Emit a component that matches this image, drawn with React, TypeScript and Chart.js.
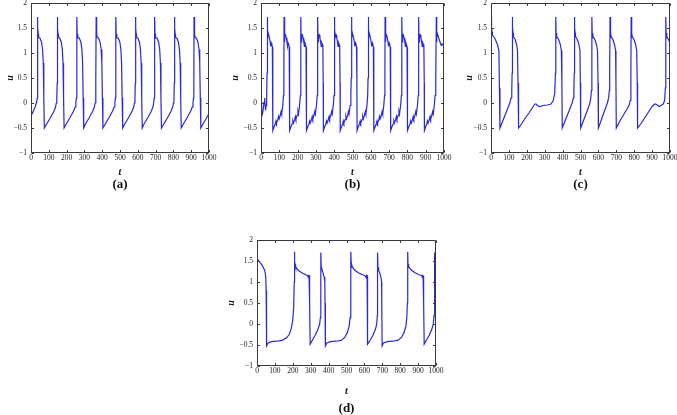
import React, { useEffect, useRef } from "react";
import { Chart, registerables } from "chart.js";
Chart.register(...registerables);

const X_TICKS = [0, 100, 200, 300, 400, 500, 600, 700, 800, 900, 1000];
const Y_TICKS = [-1, -0.5, 0, 0.5, 1, 1.5, 2];
const X_TITLE = "t";
const Y_TITLE = "u";
const PANEL_LABELS = ["(a)", "(b)", "(c)", "(d)"];

// Panel (a)
const aT = [
  0, 3, 6, 15, 25, 32, 35, 36,
  37, 39, 41, 43, 50, 59, 65, 69, 72, 75, 88, 108, 128, 138, 142, 145, 147,
  148, 150, 152, 154, 161, 170, 176, 180, 183, 186, 198, 218, 238, 248, 252, 255, 257,
  258, 260, 262, 264, 271, 280, 286, 290, 293, 296, 306, 326, 346, 356, 360, 363, 365,
  366, 368, 370, 372, 379, 388, 394, 398, 401, 404, 417, 437, 457, 467, 471, 474, 476,
  477, 479, 481, 483, 490, 499, 505, 509, 512, 515, 527, 547, 567, 577, 581, 584, 586,
  587, 589, 591, 593, 600, 609, 615, 619, 622, 625, 635, 655, 675, 685, 689, 692, 694,
  695, 697, 699, 701, 708, 717, 723, 727, 730, 733, 746, 766, 786, 796, 800, 803, 805,
  806, 808, 810, 812, 819, 828, 834, 838, 841, 844, 856, 876, 896, 906, 910, 913, 915,
  916, 918, 920, 922, 929, 938, 944, 948, 951, 954, 966, 986, 1000,
];
const aU = [
  -0.15, -0.22, -0.22, -0.15, -0.06, 0.02, 0.1, 0.5,
  1.72, 1.3, 1.38, 1.31, 1.3, 1.22, 1.07, 0.8, 0.1, -0.5, -0.42, -0.3, -0.17, -0.08, 0.0, 0.1, 0.4,
  1.72, 1.3, 1.38, 1.31, 1.3, 1.22, 1.07, 0.8, 0.1, -0.5, -0.42, -0.3, -0.17, -0.08, 0.0, 0.1, 0.4,
  1.72, 1.3, 1.38, 1.31, 1.3, 1.22, 1.07, 0.8, 0.1, -0.5, -0.42, -0.3, -0.17, -0.08, 0.0, 0.1, 0.4,
  1.72, 1.3, 1.38, 1.31, 1.3, 1.22, 1.07, 0.8, 0.1, -0.5, -0.42, -0.3, -0.17, -0.08, 0.0, 0.1, 0.4,
  1.72, 1.3, 1.38, 1.31, 1.3, 1.22, 1.07, 0.8, 0.1, -0.5, -0.42, -0.3, -0.17, -0.08, 0.0, 0.1, 0.4,
  1.72, 1.3, 1.38, 1.31, 1.3, 1.22, 1.07, 0.8, 0.1, -0.5, -0.42, -0.3, -0.17, -0.08, 0.0, 0.1, 0.4,
  1.72, 1.3, 1.38, 1.31, 1.3, 1.22, 1.07, 0.8, 0.1, -0.5, -0.42, -0.3, -0.17, -0.08, 0.0, 0.1, 0.4,
  1.72, 1.3, 1.38, 1.31, 1.3, 1.22, 1.07, 0.8, 0.1, -0.5, -0.42, -0.3, -0.17, -0.08, 0.0, 0.1, 0.4,
  1.72, 1.3, 1.38, 1.31, 1.3, 1.22, 1.07, 0.8, 0.1, -0.5, -0.42, -0.3, -0.21,
];

// Panel (b)
const bT = [
  0, 2, 5, 9, 13, 17, 20, 23, 25, 28, 31, 33,
  34, 35.5, 37, 39, 42, 46, 50, 53, 56, 59, 62, 64, 65, 72, 78, 82, 85, 92, 96, 99, 105, 110, 113, 119, 123, 125,
  126, 127.5, 129, 131, 134, 138, 142, 145, 148, 151, 154, 156, 157, 164, 170, 174, 177, 184, 188, 191, 197, 202, 205, 211, 215, 217,
  218, 219.5, 221, 223, 226, 230, 234, 237, 240, 243, 246, 248, 249, 256, 262, 266, 269, 276, 280, 283, 289, 294, 297, 303, 307, 309,
  310, 311.5, 313, 315, 318, 322, 326, 329, 332, 335, 338, 340, 341, 348, 354, 358, 361, 368, 372, 375, 381, 386, 389, 395, 399, 401,
  402, 403.5, 405, 407, 410, 414, 418, 421, 424, 427, 430, 432, 433, 440, 446, 450, 453, 460, 464, 467, 473, 478, 481, 487, 491, 493,
  494, 495.5, 497, 499, 502, 506, 510, 513, 516, 519, 522, 524, 525, 532, 538, 542, 545, 552, 556, 559, 565, 570, 573, 579, 583, 585,
  586, 587.5, 589, 591, 594, 598, 602, 605, 608, 611, 614, 616, 617, 624, 630, 634, 637, 644, 648, 651, 657, 662, 665, 671, 675, 677,
  678, 679.5, 681, 683, 686, 690, 694, 697, 700, 703, 706, 708, 709, 716, 722, 726, 729, 736, 740, 743, 749, 754, 757, 763, 767, 769,
  770, 771.5, 773, 775, 778, 782, 786, 789, 792, 795, 798, 800, 801, 808, 814, 818, 821, 828, 832, 835, 841, 846, 849, 855, 859, 861,
  862, 863.5, 865, 867, 870, 874, 878, 881, 884, 887, 890, 892, 893, 900, 906, 910, 913, 920, 924, 927, 933, 938, 941, 947, 951, 955,
  958, 959.5, 961, 963, 966, 970, 975, 980, 985, 990, 995, 1000,
];
const bU = [
  0.03, -0.12, -0.27, -0.2, -0.1, 0.02, 0.1, -0.05, -0.15, -0.05, 0.15, 0.6,
  1.72, 1.22, 1.38, 1.33, 1.36, 1.3, 1.22, 1.13, 1.2, 1.17, 1.12, 0.4, -0.55, -0.47, -0.42, -0.36, -0.4, -0.33, -0.27, -0.32, -0.25, -0.17, -0.22, -0.05, 0.15, 0.5,
  1.72, 1.22, 1.38, 1.33, 1.36, 1.3, 1.22, 1.13, 1.2, 1.17, 1.12, 0.4, -0.55, -0.47, -0.42, -0.36, -0.4, -0.33, -0.27, -0.32, -0.25, -0.17, -0.22, -0.05, 0.15, 0.5,
  1.72, 1.22, 1.38, 1.33, 1.36, 1.3, 1.22, 1.13, 1.2, 1.17, 1.12, 0.4, -0.55, -0.47, -0.42, -0.36, -0.4, -0.33, -0.27, -0.32, -0.25, -0.17, -0.22, -0.05, 0.15, 0.5,
  1.72, 1.22, 1.38, 1.33, 1.36, 1.3, 1.22, 1.13, 1.2, 1.17, 1.12, 0.4, -0.55, -0.47, -0.42, -0.36, -0.4, -0.33, -0.27, -0.32, -0.25, -0.17, -0.22, -0.05, 0.15, 0.5,
  1.72, 1.22, 1.38, 1.33, 1.36, 1.3, 1.22, 1.13, 1.2, 1.17, 1.12, 0.4, -0.55, -0.47, -0.42, -0.36, -0.4, -0.33, -0.27, -0.32, -0.25, -0.17, -0.22, -0.05, 0.15, 0.5,
  1.72, 1.22, 1.38, 1.33, 1.36, 1.3, 1.22, 1.13, 1.2, 1.17, 1.12, 0.4, -0.55, -0.47, -0.42, -0.36, -0.4, -0.33, -0.27, -0.32, -0.25, -0.17, -0.22, -0.05, 0.15, 0.5,
  1.72, 1.22, 1.38, 1.33, 1.36, 1.3, 1.22, 1.13, 1.2, 1.17, 1.12, 0.4, -0.55, -0.47, -0.42, -0.36, -0.4, -0.33, -0.27, -0.32, -0.25, -0.17, -0.22, -0.05, 0.15, 0.5,
  1.72, 1.22, 1.38, 1.33, 1.36, 1.3, 1.22, 1.13, 1.2, 1.17, 1.12, 0.4, -0.55, -0.47, -0.42, -0.36, -0.4, -0.33, -0.27, -0.32, -0.25, -0.17, -0.22, -0.05, 0.15, 0.5,
  1.72, 1.22, 1.38, 1.33, 1.36, 1.3, 1.22, 1.13, 1.2, 1.17, 1.12, 0.4, -0.55, -0.47, -0.42, -0.36, -0.4, -0.33, -0.27, -0.32, -0.25, -0.17, -0.22, -0.05, 0.15, 0.5,
  1.72, 1.22, 1.38, 1.33, 1.36, 1.3, 1.22, 1.13, 1.2, 1.17, 1.12, 0.4, -0.55, -0.47, -0.42, -0.36, -0.4, -0.33, -0.27, -0.32, -0.25, -0.17, -0.22, -0.05, 0.15, 0.5,
  1.72, 1.22, 1.38, 1.33, 1.36, 1.31, 1.26, 1.2, 1.15, 1.18, 1.16, 1.13,
];

// Panel (c)
const cT = [
  0, 2, 4, 6, 8, 22, 37, 44, 47, 50,
  70, 90, 105, 112, 116, 118,
  119, 121, 123, 125, 135, 143, 148, 151, 154,
  172, 192, 212, 232, 245, 252, 263, 273, 290, 315, 335, 348, 356, 360,
  362, 364, 366, 368, 378, 387, 393, 396, 398,
  418, 438, 453, 460, 463, 465,
  466, 468, 470, 472, 482, 491, 497, 499, 501,
  518, 535, 550, 557, 561, 563,
  564, 566, 568, 570, 580, 589, 595, 598, 600,
  618, 636, 650, 657, 661, 663,
  665, 667, 669, 671, 681, 690, 696, 698, 700,
  720, 740, 760, 772, 778, 781, 782,
  783, 785, 787, 789, 799, 808, 814, 817, 819,
  840, 860, 880, 900, 915, 925, 940, 950, 962, 970, 974, 976,
  977, 979, 981, 983, 993, 1000,
];
const cU = [
  1.45, 1.72, 1.35, 1.42, 1.36, 1.29, 1.16, 1.05, 0.3, -0.5,
  -0.32, -0.14, 0.0, 0.1, 0.25, 0.6,
  1.72, 1.3, 1.4, 1.33, 1.27, 1.17, 1.05, 0.4, -0.5,
  -0.41, -0.3, -0.2, -0.09, -0.02, -0.02, -0.06, -0.07, -0.05, -0.04, -0.02, 0.05, 0.2, 0.6,
  1.72, 1.3, 1.4, 1.33, 1.27, 1.17, 1.05, 0.4, -0.5,
  -0.32, -0.14, 0.0, 0.1, 0.25, 0.6,
  1.72, 1.3, 1.4, 1.33, 1.27, 1.17, 1.05, 0.4, -0.5,
  -0.34, -0.18, -0.03, 0.08, 0.25, 0.6,
  1.72, 1.3, 1.4, 1.33, 1.27, 1.17, 1.05, 0.4, -0.5,
  -0.32, -0.14, 0.0, 0.1, 0.25, 0.6,
  1.72, 1.3, 1.4, 1.33, 1.27, 1.17, 1.05, 0.4, -0.5,
  -0.36, -0.24, -0.12, -0.04, 0.05, 0.25, 0.6,
  1.72, 1.3, 1.4, 1.33, 1.27, 1.17, 1.05, 0.4, -0.5,
  -0.4, -0.29, -0.18, -0.07, -0.02, -0.03, -0.07, -0.05, -0.02, 0.05, 0.3, 0.7,
  1.72, 1.3, 1.4, 1.33, 1.26, 1.2,
];

// Panel (d)
const dT = [
  0, 1, 10, 28, 43, 49, 51, 53, 54,
  62, 80, 110, 140, 165, 180, 192, 200, 205, 208,
  209, 211, 213, 216, 230, 250, 270, 283, 287, 289, 291, 293, 294, 295, 297,
  310, 325, 340, 350, 354, 356,
  357, 359, 361, 364, 370, 375, 379, 380, 382,
  390, 410, 440, 470, 490, 505, 515, 520, 523,
  525, 527, 529, 532, 546, 566, 586, 604, 609, 611, 613, 615, 616, 617, 620,
  633, 648, 662, 669, 672, 673,
  674, 676, 678, 681, 687, 692, 696, 697, 699,
  707, 727, 757, 787, 807, 822, 832, 837, 840,
  842, 844, 846, 849, 863, 883, 903, 920, 924, 926, 928, 930, 931, 932, 934,
  947, 962, 977, 985, 989, 991,
  992, 994, 996, 998, 1000,
];
const dU = [
  1.9, 1.55, 1.5, 1.4, 1.28, 1.12, 0.8, -0.3, -0.52,
  -0.45, -0.42, -0.41, -0.39, -0.33, -0.25, -0.1, 0.1, 0.4, 1.0,
  1.72, 1.35, 1.42, 1.36, 1.28, 1.22, 1.18, 1.15, 1.11, 1.17, 1.09, 1.16, 1.05, 0.5, -0.48,
  -0.38, -0.27, -0.13, 0.0, 0.15, 0.5,
  1.7, 1.3, 1.35, 1.28, 1.2, 1.12, 1.0, 0.5, -0.52,
  -0.45, -0.42, -0.41, -0.39, -0.32, -0.2, -0.05, 0.15, 0.5,
  1.72, 1.35, 1.42, 1.36, 1.28, 1.22, 1.18, 1.15, 1.11, 1.17, 1.09, 1.16, 1.05, 0.5, -0.48,
  -0.38, -0.27, -0.12, 0.0, 0.2, 0.6,
  1.7, 1.3, 1.35, 1.28, 1.2, 1.12, 1.0, 0.5, -0.52,
  -0.45, -0.42, -0.41, -0.39, -0.32, -0.2, -0.05, 0.15, 0.5,
  1.72, 1.35, 1.42, 1.36, 1.28, 1.22, 1.18, 1.15, 1.11, 1.17, 1.09, 1.15, 1.05, 0.5, -0.48,
  -0.38, -0.27, -0.12, 0.0, 0.2, 0.6,
  1.7, 1.3, 1.35, 1.28, 1.3,
];

const FONT = "'Liberation Serif', 'Times New Roman', Times, serif";
const LINE_COLOR = "rgb(40,40,222)";
const FRAME_COLOR = "#3a3a3a";

type Spec = {
  t: number[];
  u: number[];
  label: string;
  L: number; R: number; T: number; B: number;
  uX: number; tY: number; labY: number;
};

const PANELS: Spec[] = [
  { t: aT, u: aU, label: PANEL_LABELS[0], L: 31, R: 209, T: 3, B: 153, uX: 10, tY: 172, labY: 184 },
  { t: bT, u: bU, label: PANEL_LABELS[1], L: 261, R: 444, T: 3, B: 153, uX: 235, tY: 172, labY: 184 },
  { t: cT, u: cU, label: PANEL_LABELS[2], L: 491, R: 670, T: 3, B: 153, uX: 469, tY: 172, labY: 184 },
  { t: dT, u: dU, label: PANEL_LABELS[3], L: 257, R: 436, T: 240, B: 366, uX: 231, tY: 391, labY: 408 },
];

const YW = 40;
const XH = 40;
const PAD_T = 12;
const PAD_R = 16;

const framePlugin = {
  id: "frameTicks",
  afterDatasetsDraw(chart: any) {
    const { ctx, chartArea, scales } = chart;
    const l = Math.round(chartArea.left) + 0.5;
    const r = Math.round(chartArea.right) - 0.5;
    const t = Math.round(chartArea.top) + 0.5;
    const b = Math.round(chartArea.bottom) - 0.5;
    ctx.save();
    ctx.strokeStyle = FRAME_COLOR;
    ctx.lineWidth = 1;
    ctx.strokeRect(l, t, r - l, b - t);
    const len = 2.5;
    ctx.beginPath();
    for (const v of X_TICKS) {
      const px = Math.round(scales.x.getPixelForValue(v)) + 0.5;
      ctx.moveTo(px, b); ctx.lineTo(px, b - len);
      ctx.moveTo(px, t); ctx.lineTo(px, t + len);
    }
    for (const v of Y_TICKS) {
      const py = Math.round(scales.y.getPixelForValue(v)) + 0.5;
      ctx.moveTo(l, py); ctx.lineTo(l + len, py);
      ctx.moveTo(r, py); ctx.lineTo(r - len, py);
    }
    ctx.stroke();
    ctx.restore();
  },
};

function fmtY(v: number) {
  return v < 0 ? "\u2212" + String(Math.abs(v)) : String(v);
}

function Panel({ spec }: { spec: Spec }) {
  const ref = useRef<HTMLCanvasElement>(null);
  const cLeft = spec.L - YW;
  const cTop = spec.T - PAD_T;
  const cW = spec.R - spec.L + YW + PAD_R;
  const cH = spec.B - spec.T + PAD_T + XH;
  useEffect(() => {
    if (!ref.current) return;
    const yTitlePad = spec.uX - cLeft - 6;
    const xTitlePad = spec.B + XH - spec.tY - 6;
    const chart = new Chart(ref.current, {
      type: "line",
      data: {
        datasets: [
          {
            data: spec.t.map((tt, i) => ({ x: tt, y: spec.u[i] })),
            borderColor: LINE_COLOR,
            borderWidth: 1.2,
            pointRadius: 0,
            tension: 0,
            fill: false,
          },
        ],
      },
      options: {
        animation: false,
        responsive: false,
        maintainAspectRatio: false,
        devicePixelRatio: 1,
        events: [],
        layout: { padding: { left: 0, top: PAD_T, right: PAD_R, bottom: 0 } },
        plugins: { legend: { display: false }, tooltip: { enabled: false } },
        scales: {
          x: {
            type: "linear",
            min: 0,
            max: 1000,
            afterBuildTicks: (s: any) => { s.ticks = X_TICKS.map((v) => ({ value: v })); },
            grid: { display: false, drawTicks: false },
            border: { display: false },
            ticks: {
              font: { family: FONT, size: 7.5 },
              color: "#222",
              padding: 1,
              maxRotation: 0,
              autoSkip: false,
              callback: (v: any) => String(v),
            },
            title: {
              display: true,
              text: X_TITLE,
              color: "#111",
              font: { family: FONT, size: 10, weight: "bold", style: "italic" },
              padding: { top: 0, bottom: xTitlePad },
            },
            afterFit: (s: any) => { s.height = XH; },
          },
          y: {
            type: "linear",
            min: -1,
            max: 2,
            afterBuildTicks: (s: any) => { s.ticks = Y_TICKS.map((v) => ({ value: v })); },
            grid: { display: false, drawTicks: false },
            border: { display: false },
            ticks: {
              font: { family: FONT, size: 7.5 },
              color: "#222",
              padding: 4,
              autoSkip: false,
              callback: (v: any) => fmtY(Number(v)),
            },
            title: {
              display: true,
              text: Y_TITLE,
              color: "#111",
              font: { family: FONT, size: 10, weight: "bold", style: "italic" },
              padding: { top: yTitlePad, bottom: 0 },
            },
            afterFit: (s: any) => { s.width = YW; },
          },
        },
      } as any,
      plugins: [framePlugin],
    });
    return () => chart.destroy();
  }, []);
  const cx = (spec.L + spec.R) / 2;
  return (
    <>
      <canvas
        ref={ref}
        width={cW}
        height={cH}
        style={{ position: "absolute", left: cLeft, top: cTop, width: cW, height: cH }}
      />
      <div
        style={{
          position: "absolute",
          left: cx - 30,
          top: spec.labY - 8,
          width: 60,
          height: 16,
          lineHeight: "16px",
          textAlign: "center",
          fontFamily: FONT,
          fontWeight: "bold",
          fontSize: 13,
          color: "#111",
        }}
      >
        {spec.label}
      </div>
    </>
  );
}

export default function App() {
  return (
    <div
      style={{
        position: "absolute",
        left: 0,
        top: 0,
        width: 677,
        height: 415,
        background: "#fff",
        overflow: "hidden",
      }}
    >
      {PANELS.map((p, i) => (
        <Panel key={i} spec={p} />
      ))}
    </div>
  );
}
